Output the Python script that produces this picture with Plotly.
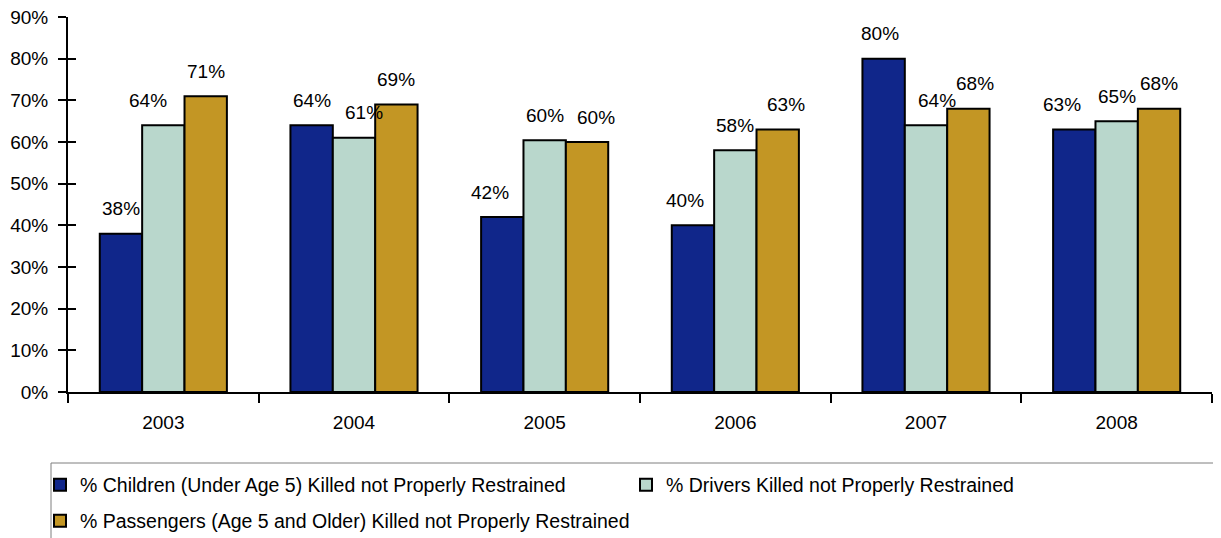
import plotly.graph_objects as go

# Data
years = ["2003", "2004", "2005", "2006", "2007", "2008"]
children = [38, 64, 42, 40, 80, 63]
drivers = [64, 61, 60.4, 58, 64, 65]
passengers = [71, 69, 60, 63, 68, 68]
y_ticks = [0, 10, 20, 30, 40, 50, 60, 70, 80, 90]
y_tick_labels = [f"{t}%" for t in y_ticks]

series_names = [
    "% Children (Under Age 5) Killed not Properly Restrained",
    "% Drivers Killed not Properly Restrained",
    "% Passengers (Age 5 and Older) Killed not Properly Restrained",
]
colors = ["#10268A", "#B9D7CC", "#C39624"]

FONT = "Liberation Sans, Arial, sans-serif"
W, H = 1221, 538
# the page body adds an 8px offset, margins are set to compensate
M_L, M_R, M_T, M_B = 60, 17, 9, 154
PW = W - M_L - M_R
PH = H - M_T - M_B


def px_x(px):
    return (px - M_L) / PW


def px_y(px):
    return (H - M_B - px) / PH


fig = go.Figure()
legends = ["legend", "legend", "legend2"]
for name, vals, col, lg in zip(series_names, [children, drivers, passengers], colors, legends):
    fig.add_trace(go.Bar(
        x=years, y=vals, name=name, legend=lg,
        marker=dict(color=col, line=dict(color="black", width=2)),
    ))

# value labels above each bar
bargap = 1 / 3
bar_w = PW / len(years) * (1 - bargap) / 3
# small nudges like the hand-placed labels in the original
nudges = [
    [0, -15, 0],
    [0, 10, 0],
    [-12, 0, 9],
    [-8, 0, 8],
    [-4, 11, 7],
    [-12, 0, 0],
]
for j, vals in enumerate([children, drivers, passengers]):
    for i, v in enumerate(vals):
        fig.add_annotation(
            x=i, y=v, xref="x", yref="y", text=f"{v:.0f}%", showarrow=False,
            xshift=(j - 1) * bar_w + nudges[i][j], yshift=25,
            yanchor="middle", font=dict(size=19, color="black", family=FONT),
        )

# invisible helper trace so the inner tick marks of yaxis2 render
fig.add_trace(go.Scatter(x=years, y=children, yaxis="y2", mode="none",
                         showlegend=False, hoverinfo="skip"))

# legend frame
fig.add_shape(type="rect", xref="paper", yref="paper",
              x0=px_x(43), x1=px_x(1240), y0=px_y(455), y1=px_y(560),
              line=dict(color="#7F7F7F", width=1), fillcolor="rgba(0,0,0,0)")

legend_common = dict(
    orientation="h", xanchor="left", yanchor="middle",
    borderwidth=0, bgcolor="rgba(0,0,0,0)",
    font=dict(size=19.5, family=FONT, color="black"),
    traceorder="normal", itemwidth=30,
)

fig.update_layout(
    width=W, height=H,
    margin=dict(l=M_L, r=M_R, t=M_T, b=M_B, autoexpand=False),
    paper_bgcolor="white", plot_bgcolor="white",
    barmode="group", bargap=bargap, bargroupgap=0,
    font=dict(family=FONT, size=19, color="black"),
    showlegend=True,
    legend=dict(x=px_x(32), y=px_y(477), entrywidth=541, **legend_common),
    legend2=dict(x=px_x(32), y=px_y(513), **legend_common),
    xaxis=dict(
        type="category",
        showline=True, linecolor="black", linewidth=2,
        ticks="outside", ticklen=9, tickwidth=2, tickcolor="black",
        tickson="boundaries", showgrid=False, ticklabelstandoff=12,
        automargin=False, tickangle=0,
    ),
    yaxis=dict(
        range=[0, 90.01], tickvals=y_ticks, ticktext=y_tick_labels,
        showline=True, linecolor="black", linewidth=2,
        ticks="outside", ticklen=8, tickwidth=2, tickcolor="black",
        showgrid=False, zeroline=False, ticklabelstandoff=6, automargin=False,
        ticklabeloverflow="allow",
    ),
    yaxis2=dict(
        overlaying="y", matches="y", side="left", showticklabels=False,
        ticks="inside", ticklen=8, tickwidth=2, tickcolor="black",
        showgrid=False, zeroline=False, showline=False, tickvals=y_ticks,
    ),
)

fig.write_html("out.html")
